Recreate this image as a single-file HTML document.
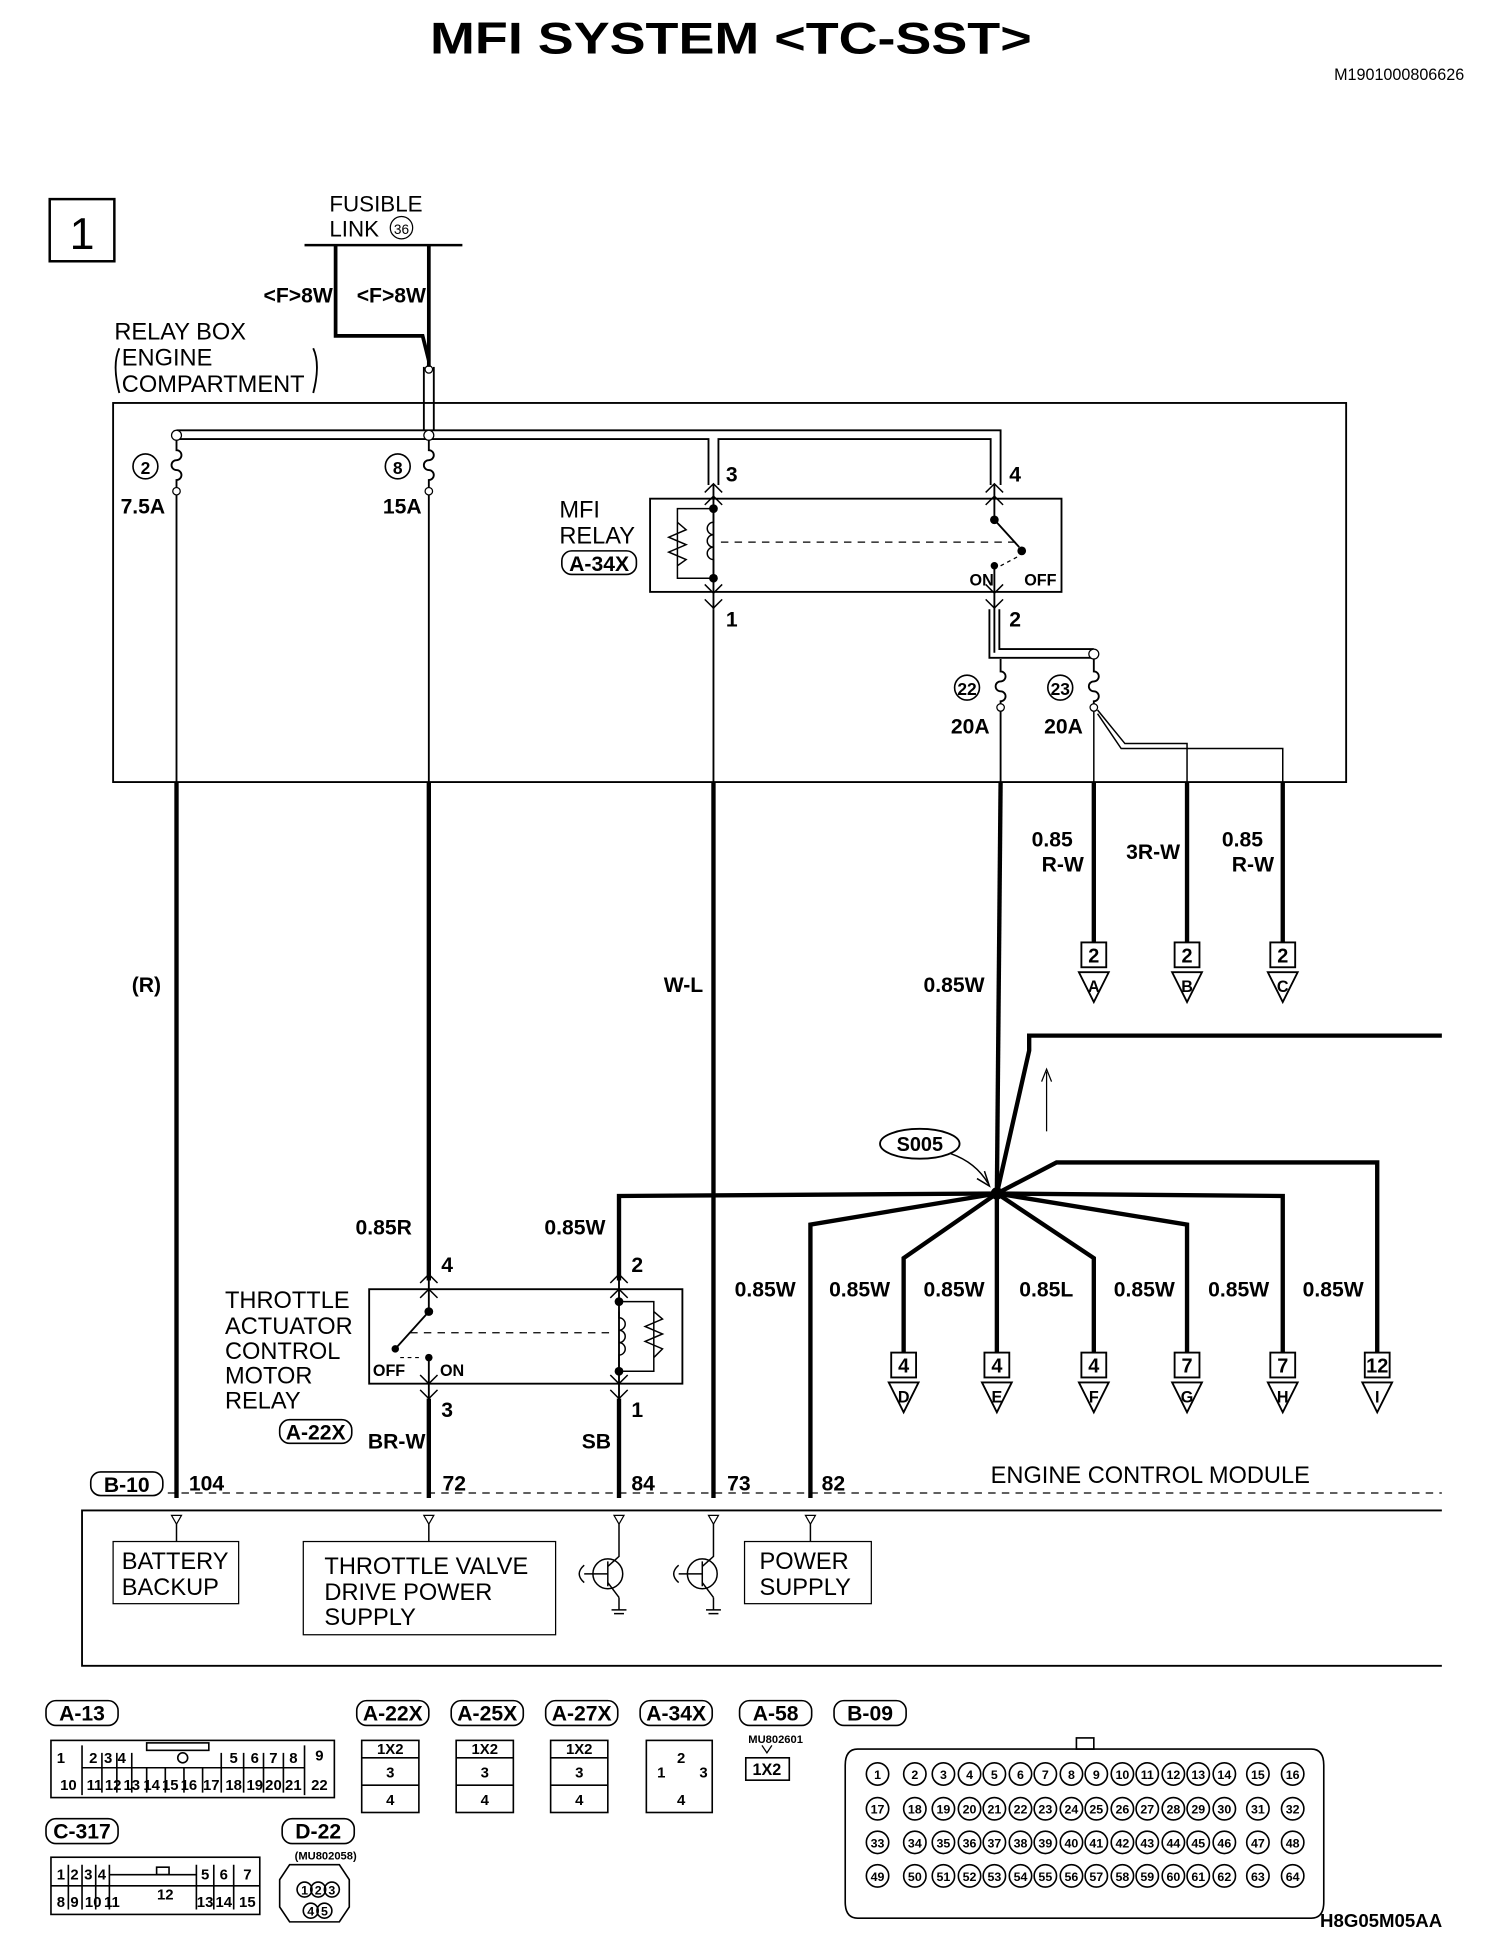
<!DOCTYPE html>
<html><head><meta charset="utf-8"><style>
html,body{margin:0;padding:0;background:#fff}
svg{display:block}
text{font-family:"Liberation Sans",sans-serif;fill:#000}
.b{font-weight:bold}
</style></head><body>
<svg width="1504" height="1942" viewBox="0 0 1210 1562" xmlns="http://www.w3.org/2000/svg">
<rect width="1210" height="1562" fill="#fff"/>
<text x="346" y="43" class="b" font-size="36" textLength="484" lengthAdjust="spacingAndGlyphs">MFI SYSTEM  &lt;TC-SST&gt;</text>
<text x="1178" y="64" text-anchor="end" font-size="13">M1901000806626</text>
<rect x="40" y="160" width="52" height="50" fill="none" stroke="#000" stroke-width="2"/>
<text x="66" y="200" text-anchor="middle" font-size="36">1</text>
<text x="265" y="170" font-size="18">FUSIBLE</text>
<text x="265" y="190" font-size="18">LINK</text>
<circle cx="323" cy="183" r="9" fill="none" stroke="#000"/><text x="323" y="188" text-anchor="middle" font-size="11">36</text>
<g fill="none" stroke="#000">
<line x1="245" y1="197" x2="372" y2="197" stroke-width="2"/>
<polyline points="270,197 270,270 340,270 345,290" stroke-width="3"/>
<line x1="345" y1="197" x2="345" y2="295" stroke-width="3"/>
<rect x="91" y="324" width="992" height="305" stroke-width="1.5"/>
<path d="M142,346 H805 V390 M142,353 H570 V390 M578,390 V353 H797 V390" stroke-width="1.5"/>
<line x1="341" y1="295" x2="341" y2="346" stroke-width="1.5"/><line x1="349" y1="295" x2="349" y2="346" stroke-width="1.5"/>
<circle cx="345" cy="297" r="3"/>
<circle cx="142" cy="350" r="4" fill="#fff"/><circle cx="345" cy="350" r="4" fill="#fff"/>
<path d="M142,354 V362 a4,4 0 0 1 0,8 a4,4 0 0 0 0,8 a4,4 0 0 1 0,8 V392" stroke-width="1.5"/>
<circle cx="142" cy="395" r="3" fill="#fff"/>
<path d="M345,354 V362 a4,4 0 0 1 0,8 a4,4 0 0 0 0,8 a4,4 0 0 1 0,8 V392" stroke-width="1.5"/>
<circle cx="345" cy="395" r="3" fill="#fff"/>
<line x1="142" y1="398" x2="142" y2="629" stroke-width="1.5"/>
<line x1="345" y1="398" x2="345" y2="629" stroke-width="1.5"/>
<line x1="142" y1="629" x2="142" y2="1205" stroke-width="3.5"/>
<line x1="345" y1="629" x2="345" y2="1030" stroke-width="3.5"/>
<path d="M96,280 q-6,13 0,36 M252,280 q6,13 0,36" stroke-width="1.5"/>
<rect x="523" y="401" width="331" height="75" stroke-width="1.5"/>
<line x1="574" y1="390" x2="574" y2="490" stroke-width="1.5"/>
<path d="M567,396 L574,389 L581,396 M567,406 L574,399 L581,406 M567,482 L574,489 L581,482 M567,470 L574,477 L581,470" stroke-width="1.2"/>
<path d="M574,409 H545 V465 H574 M545,420 L552,426 L538,432 L552,438 L538,444 L552,450 L545,455" stroke-width="1.2"/>
<path d="M574,412 V420 a5,5 0 0 0 0,10 a5,5 0 0 0 0,10 a5,5 0 0 0 0,10 V465" stroke-width="1.2"/>
<line x1="580" y1="436" x2="820" y2="436" stroke-dasharray="6,5"/>
<line x1="800" y1="390" x2="800" y2="418" stroke-width="1.5"/>
<line x1="800" y1="418" x2="820" y2="440" stroke-width="1.5"/>
<line x1="800" y1="455" x2="800" y2="525" stroke-width="1.5"/>
<path d="M793,396 L800,389 L807,396 M793,406 L800,399 L807,406 M793,482 L800,489 L807,482 M793,470 L800,477 L807,470" stroke-width="1.2"/>
<line x1="805" y1="455" x2="820" y2="447" stroke-dasharray="3,3"/>
<line x1="574" y1="490" x2="574" y2="629" stroke-width="1.5"/>
<line x1="574" y1="629" x2="574" y2="1205" stroke-width="3.5"/>
<path d="M796,490 V529 H880 M804,490 V522 H880" stroke-width="1.5"/>
<circle cx="880" cy="526" r="4" fill="#fff"/>
<path d="M805,530 V540 a4,4 0 0 1 0,8 a4,4 0 0 0 0,8 a4,4 0 0 1 0,8 V566" stroke-width="1.5"/>
<circle cx="805" cy="569" r="3" fill="#fff"/>
<path d="M880,530 V540 a4,4 0 0 1 0,8 a4,4 0 0 0 0,8 a4,4 0 0 1 0,8 V566" stroke-width="1.5"/>
<circle cx="880" cy="569" r="3" fill="#fff"/>
<line x1="805" y1="572" x2="805" y2="629" stroke-width="1.5"/>
<line x1="805" y1="629" x2="802" y2="960" stroke-width="3.5"/>
<path d="M880,572 V629 M883,571 L905,598 H955 V629 M883,574 L902,602 H1032 V629" stroke-width="1.2"/>
<line x1="880" y1="629" x2="880" y2="758" stroke-width="3.5"/>
<line x1="955" y1="629" x2="955" y2="758" stroke-width="3.5"/>
<line x1="1032" y1="629" x2="1032" y2="758" stroke-width="3.5"/>
<g stroke-width="3.5">
<polyline points="802,960 828,845 828,833 1160,833"/>
<polyline points="802,960 498,962 498,1030"/>
<polyline points="802,960 652,985 652,1205"/>
<polyline points="802,960 727,1012 727,1088"/>
<line x1="802" y1="960" x2="802" y2="1088"/>
<polyline points="802,960 880,1012 880,1088"/>
<polyline points="802,960 955,985 955,1088"/>
<polyline points="802,960 1032,962 1032,1088"/>
<polyline points="802,960 850,935 1108,935 1108,1088"/>
</g>
<line x1="842" y1="910" x2="842" y2="862" stroke-width="1"/>
<path d="M838,870 L842,860 L846,870"/>
<ellipse cx="740" cy="920" rx="32" ry="12" stroke-width="1.5"/>
<path d="M765,928 Q785,935 795,952" stroke-width="1.2"/>
<path d="M786,948 L796,954 L792,942" stroke-width="1.2"/>
<rect x="297" y="1037" width="252" height="76" stroke-width="1.5"/>
<line x1="345" y1="1030" x2="345" y2="1055" stroke-width="1.5"/>
<line x1="345" y1="1055" x2="318" y2="1085" stroke-width="1.5"/>
<line x1="345" y1="1090" x2="345" y2="1125" stroke-width="1.5"/>
<path d="M338,1032 L345,1025 L352,1032 M338,1044 L345,1037 L352,1044 M338,1118 L345,1125 L352,1118 M338,1106 L345,1113 L352,1106" stroke-width="1.2"/>
<line x1="330" y1="1072" x2="490" y2="1072" stroke-dasharray="6,5"/>
<line x1="322" y1="1092" x2="340" y2="1092" stroke-dasharray="3,3"/>
<line x1="498" y1="1030" x2="498" y2="1125" stroke-width="1.5"/>
<path d="M491,1032 L498,1025 L505,1032 M491,1044 L498,1037 L505,1044 M491,1118 L498,1125 L505,1118 M491,1106 L498,1113 L505,1106" stroke-width="1.2"/>
<path d="M498,1047 H526 V1103 H498 M526,1055 L533,1061 L519,1067 L533,1073 L519,1079 L533,1085 L526,1092" stroke-width="1.2"/>
<path d="M498,1055 V1060 a5,5 0 0 1 0,10 a5,5 0 0 1 0,10 a5,5 0 0 1 0,10 V1103" stroke-width="1.2"/>
<line x1="345" y1="1125" x2="345" y2="1205" stroke-width="3.5"/>
<line x1="498" y1="1125" x2="498" y2="1205" stroke-width="3.5"/>
<line x1="135" y1="1201" x2="1160" y2="1201" stroke-dasharray="6,5"/>
<path d="M1160,1215 H66 V1340 H1160" stroke-width="1.5"/>
<rect x="91" y="1240" width="101" height="50"/>
<rect x="244" y="1240" width="203" height="75"/>
<rect x="599" y="1240" width="102" height="50"/>
</g>
<g fill="#000">
<circle cx="574" cy="409" r="3.5"/><circle cx="574" cy="465" r="3.5"/><circle cx="800" cy="418" r="3.5"/><circle cx="822" cy="443" r="3.5"/><circle cx="800" cy="455" r="3"/>
<circle cx="345" cy="1055" r="3.5"/><circle cx="318" cy="1085" r="3"/><circle cx="345" cy="1092" r="3"/><circle cx="498" cy="1047" r="3.5"/><circle cx="498" cy="1103" r="3.5"/>
<circle cx="802" cy="960" r="5"/>
</g>
<g fill="#fff" stroke="#000">
<path d="M138,1219 h8 l-4,7z M341,1219 h8 l-4,7z M494,1219 h8 l-4,7z M570,1219 h8 l-4,7z M648,1219 h8 l-4,7z"/>
</g>
<g stroke="#000" fill="none" stroke-width="1.2">
<line x1="142" y1="1226" x2="142" y2="1240"/><line x1="345" y1="1226" x2="345" y2="1240"/>
<path d="M498,1226 V1252 L489,1260 M498,1285 L489,1273 M489,1256 V1276 M470,1266 H489"/>
<circle cx="489" cy="1266" r="12"/>
<path d="M498,1285 V1295 M492,1295 h12 M494,1298 h8"/>
<path d="M574,1226 V1252 L565,1260 M574,1285 L565,1273 M565,1256 V1276 M546,1266 H565"/>
<circle cx="565" cy="1266" r="12"/>
<path d="M574,1285 V1295 M568,1295 h12 M570,1298 h8"/>
<path d="M470,1259 q-8,7 0,14 M546,1259 q-8,7 0,14"/>
<line x1="652" y1="1226" x2="652" y2="1240"/>
</g>
<g fill="none" stroke="#000" stroke-width="1.5">
<rect x="870" y="758" width="20" height="20"/><rect x="945" y="758" width="20" height="20"/><rect x="1022" y="758" width="20" height="20"/>
<path d="M868,782 h24 l-12,24z M943,782 h24 l-12,24z M1020,782 h24 l-12,24z"/>
<rect x="717" y="1088" width="20" height="20"/><rect x="792" y="1088" width="20" height="20"/><rect x="870" y="1088" width="20" height="20"/><rect x="945" y="1088" width="20" height="20"/><rect x="1022" y="1088" width="20" height="20"/><rect x="1098" y="1088" width="20" height="20"/>
<path d="M715,1112 h24 l-12,24z M790,1112 h24 l-12,24z M868,1112 h24 l-12,24z M943,1112 h24 l-12,24z M1020,1112 h24 l-12,24z M1096,1112 h24 l-12,24z"/>
</g>
<g class="b" font-size="16" text-anchor="middle">
<text x="880" y="774">2</text><text x="955" y="774">2</text><text x="1032" y="774">2</text>
<text x="880" y="798" font-size="13">A</text><text x="955" y="798" font-size="13">B</text><text x="1032" y="798" font-size="13">C</text>
<text x="727" y="1104">4</text><text x="802" y="1104">4</text><text x="880" y="1104">4</text><text x="955" y="1104">7</text><text x="1032" y="1104">7</text><text x="1108" y="1104">12</text>
<text x="727" y="1128" font-size="13">D</text><text x="802" y="1128" font-size="13">E</text><text x="880" y="1128" font-size="13">F</text><text x="955" y="1128" font-size="13">G</text><text x="1032" y="1128" font-size="13">H</text><text x="1108" y="1128" font-size="13">I</text>
</g>
<g class="b" font-size="17">
<text x="212" y="243">&lt;F&gt;8W</text><text x="287" y="243">&lt;F&gt;8W</text>
<text x="97" y="413">7.5A</text><text x="308" y="413">15A</text>
<text x="584" y="387">3</text><text x="812" y="387">4</text><text x="584" y="504">1</text><text x="812" y="504">2</text>
<text x="765" y="590">20A</text><text x="840" y="590">20A</text>
<text x="830" y="681">0.85</text><text x="838" y="701">R-W</text>
<text x="906" y="691">3R-W</text>
<text x="983" y="681">0.85</text><text x="991" y="701">R-W</text>
<text x="106" y="798">(R)</text><text x="534" y="798">W-L</text><text x="743" y="798">0.85W</text>
<text x="286" y="993">0.85R</text><text x="438" y="993">0.85W</text>
<text x="355" y="1023">4</text><text x="508" y="1023">2</text><text x="355" y="1140">3</text><text x="508" y="1140">1</text>
<text x="591" y="1043">0.85W</text><text x="667" y="1043">0.85W</text><text x="743" y="1043">0.85W</text><text x="820" y="1043">0.85L</text><text x="896" y="1043">0.85W</text><text x="972" y="1043">0.85W</text><text x="1048" y="1043">0.85W</text>
<text x="296" y="1165">BR-W</text><text x="468" y="1165">SB</text>
<text x="152" y="1199">104</text><text x="356" y="1199">72</text><text x="508" y="1199">84</text><text x="585" y="1199">73</text><text x="661" y="1199">82</text>
<text x="1062" y="1550" font-size="15">H8G05M05AA</text>
</g>
<g font-size="19">
<text x="92" y="273">RELAY BOX</text><text x="98" y="294">ENGINE</text><text x="98" y="315">COMPARTMENT</text>
<text x="450" y="416">MFI</text><text x="450" y="437">RELAY</text>
<text x="181" y="1052">THROTTLE</text><text x="181" y="1073">ACTUATOR</text><text x="181" y="1093">CONTROL</text><text x="181" y="1113">MOTOR</text><text x="181" y="1133">RELAY</text>
<text x="797" y="1193">ENGINE CONTROL MODULE</text>
<text x="98" y="1262">BATTERY</text><text x="98" y="1283">BACKUP</text>
<text x="261" y="1266">THROTTLE VALVE</text><text x="261" y="1287">DRIVE POWER</text><text x="261" y="1307">SUPPLY</text>
<text x="611" y="1262">POWER</text><text x="611" y="1283">SUPPLY</text>
</g>
<g fill="none" stroke="#000" stroke-width="1.3">
<circle cx="117" cy="375" r="10"/><circle cx="320" cy="375" r="10"/><circle cx="778" cy="553" r="10"/><circle cx="853" cy="553" r="10"/>
<rect x="452" y="443" width="60" height="19" rx="8"/>
<rect x="225" y="1142" width="58" height="19" rx="8"/>
<rect x="73" y="1184" width="58" height="19" rx="8"/>
</g>
<g class="b" font-size="14" text-anchor="middle">
<text x="117" y="381">2</text><text x="320" y="381">8</text><text x="778" y="559">22</text><text x="853" y="559">23</text>
<text x="740" y="926" font-size="16">S005</text>
<text x="482" y="459" font-size="17">A-34X</text><text x="254" y="1158" font-size="17">A-22X</text><text x="102" y="1200" font-size="17">B-10</text>
</g>
<g fill="none" stroke="#000" stroke-width="1.3">
<rect x="37" y="1368" width="58" height="20" rx="8"/><rect x="287" y="1368" width="58" height="20" rx="8"/><rect x="363" y="1368" width="58" height="20" rx="8"/><rect x="439" y="1368" width="58" height="20" rx="8"/><rect x="515" y="1368" width="58" height="20" rx="8"/><rect x="595" y="1368" width="58" height="20" rx="8"/><rect x="671" y="1368" width="58" height="20" rx="8"/>
<rect x="37" y="1463" width="58" height="20" rx="8"/><rect x="227" y="1463" width="58" height="20" rx="8"/>
<rect x="41" y="1400" width="228" height="46"/><line x1="66" y1="1422" x2="245" y2="1422"/>
<path d="M66,1404 V1444 M245,1404 V1444 M82,1410 V1442 M94,1410 V1442 M106,1410 V1442 M118,1422 V1442 M133,1422 V1442 M148,1422 V1442 M163,1422 V1442 M178,1410 V1442 M196,1410 V1442 M212,1410 V1442 M228,1410 V1442"/>
<rect x="118" y="1402" width="50" height="6"/><circle cx="147" cy="1414" r="4"/>
<rect x="41" y="1494" width="168" height="46"/><line x1="41" y1="1517" x2="209" y2="1517"/>
<path d="M55,1500 V1536 M66,1500 V1536 M77,1500 V1536 M88,1500 V1536 M158,1500 V1536 M172,1500 V1536 M188,1500 V1536 M88,1508 H158"/>
<rect x="126" y="1502" width="10" height="6"/>
<rect x="291" y="1400" width="46" height="58"/><rect x="367" y="1400" width="46" height="58"/><rect x="443" y="1400" width="46" height="58"/>
<line x1="291" y1="1414" x2="337" y2="1414"/><line x1="291" y1="1436" x2="337" y2="1436"/>
<line x1="367" y1="1414" x2="413" y2="1414"/><line x1="367" y1="1436" x2="413" y2="1436"/>
<line x1="443" y1="1414" x2="489" y2="1414"/><line x1="443" y1="1436" x2="489" y2="1436"/>
<rect x="520" y="1400" width="53" height="58"/>
<rect x="600" y="1414" width="35" height="18"/>
<path d="M233,1500 h40 l8,12 v22 l-8,12 h-40 l-8,-12 v-22z"/>
<circle cx="245" cy="1520" r="6"/><circle cx="256" cy="1520" r="6"/><circle cx="267" cy="1520" r="6"/><circle cx="250" cy="1537" r="6"/><circle cx="261" cy="1537" r="6"/>
<path d="M690,1407 H1055 Q1065,1407 1065,1420 V1530 Q1065,1543 1055,1543 H690 Q680,1543 680,1530 V1420 Q680,1407 690,1407z"/>
<rect x="866" y="1398" width="14" height="9"/>
</g>
<g class="b" font-size="17" text-anchor="middle">
<text x="66" y="1384">A-13</text><text x="316" y="1384">A-22X</text><text x="392" y="1384">A-25X</text><text x="468" y="1384">A-27X</text><text x="544" y="1384">A-34X</text><text x="624" y="1384">A-58</text><text x="700" y="1384">B-09</text>
<text x="66" y="1479">C-317</text><text x="256" y="1479">D-22</text>
<text x="624" y="1402" font-size="9">MU802601</text><text x="262" y="1496" font-size="9">(MU802058)</text>
<text x="617" y="1428" font-size="13">1X2</text>
</g>
<g class="b" font-size="12" text-anchor="middle">
<text x="49" y="1418">1</text><text x="75" y="1418">2</text><text x="87" y="1418">3</text><text x="98" y="1418">4</text><text x="188" y="1418">5</text><text x="205" y="1418">6</text><text x="220" y="1418">7</text><text x="236" y="1418">8</text><text x="257" y="1416">9</text>
<text x="55" y="1440">10</text><text x="76" y="1440">11</text><text x="91" y="1440">12</text><text x="106" y="1440">13</text><text x="122" y="1440">14</text><text x="137" y="1440">15</text><text x="152" y="1440">16</text><text x="170" y="1440">17</text><text x="188" y="1440">18</text><text x="205" y="1440">19</text><text x="220" y="1440">20</text><text x="236" y="1440">21</text><text x="257" y="1440">22</text>
<text x="49" y="1512">1</text><text x="60" y="1512">2</text><text x="71" y="1512">3</text><text x="82" y="1512">4</text><text x="165" y="1512">5</text><text x="180" y="1512">6</text><text x="199" y="1512">7</text>
<text x="49" y="1534">8</text><text x="60" y="1534">9</text><text x="75" y="1534">10</text><text x="90" y="1534">11</text><text x="133" y="1528">12</text><text x="165" y="1534">13</text><text x="180" y="1534">14</text><text x="199" y="1534">15</text>
<text x="314" y="1411">1X2</text><text x="314" y="1430">3</text><text x="314" y="1452">4</text>
<text x="390" y="1411">1X2</text><text x="390" y="1430">3</text><text x="390" y="1452">4</text>
<text x="466" y="1411">1X2</text><text x="466" y="1430">3</text><text x="466" y="1452">4</text>
<text x="548" y="1418">2</text><text x="532" y="1430">1</text><text x="566" y="1430">3</text><text x="548" y="1452">4</text>
<text x="245" y="1524" font-size="10">1</text><text x="256" y="1524" font-size="10">2</text><text x="267" y="1524" font-size="10">3</text><text x="250" y="1541" font-size="10">4</text><text x="261" y="1541" font-size="10">5</text>
</g>
<g fill="none" stroke="#000" stroke-width="1.3">
<circle cx="706" cy="1427" r="9"/><circle cx="736" cy="1427" r="9"/><circle cx="759" cy="1427" r="9"/><circle cx="780" cy="1427" r="9"/><circle cx="800" cy="1427" r="9"/><circle cx="821" cy="1427" r="9"/><circle cx="841" cy="1427" r="9"/><circle cx="862" cy="1427" r="9"/><circle cx="882" cy="1427" r="9"/><circle cx="903" cy="1427" r="9"/><circle cx="923" cy="1427" r="9"/><circle cx="944" cy="1427" r="9"/><circle cx="964" cy="1427" r="9"/><circle cx="985" cy="1427" r="9"/><circle cx="1012" cy="1427" r="9"/><circle cx="1040" cy="1427" r="9"/>
<circle cx="706" cy="1455" r="9"/><circle cx="736" cy="1455" r="9"/><circle cx="759" cy="1455" r="9"/><circle cx="780" cy="1455" r="9"/><circle cx="800" cy="1455" r="9"/><circle cx="821" cy="1455" r="9"/><circle cx="841" cy="1455" r="9"/><circle cx="862" cy="1455" r="9"/><circle cx="882" cy="1455" r="9"/><circle cx="903" cy="1455" r="9"/><circle cx="923" cy="1455" r="9"/><circle cx="944" cy="1455" r="9"/><circle cx="964" cy="1455" r="9"/><circle cx="985" cy="1455" r="9"/><circle cx="1012" cy="1455" r="9"/><circle cx="1040" cy="1455" r="9"/>
<circle cx="706" cy="1482" r="9"/><circle cx="736" cy="1482" r="9"/><circle cx="759" cy="1482" r="9"/><circle cx="780" cy="1482" r="9"/><circle cx="800" cy="1482" r="9"/><circle cx="821" cy="1482" r="9"/><circle cx="841" cy="1482" r="9"/><circle cx="862" cy="1482" r="9"/><circle cx="882" cy="1482" r="9"/><circle cx="903" cy="1482" r="9"/><circle cx="923" cy="1482" r="9"/><circle cx="944" cy="1482" r="9"/><circle cx="964" cy="1482" r="9"/><circle cx="985" cy="1482" r="9"/><circle cx="1012" cy="1482" r="9"/><circle cx="1040" cy="1482" r="9"/>
<circle cx="706" cy="1509" r="9"/><circle cx="736" cy="1509" r="9"/><circle cx="759" cy="1509" r="9"/><circle cx="780" cy="1509" r="9"/><circle cx="800" cy="1509" r="9"/><circle cx="821" cy="1509" r="9"/><circle cx="841" cy="1509" r="9"/><circle cx="862" cy="1509" r="9"/><circle cx="882" cy="1509" r="9"/><circle cx="903" cy="1509" r="9"/><circle cx="923" cy="1509" r="9"/><circle cx="944" cy="1509" r="9"/><circle cx="964" cy="1509" r="9"/><circle cx="985" cy="1509" r="9"/><circle cx="1012" cy="1509" r="9"/><circle cx="1040" cy="1509" r="9"/>
</g>
<g class="b" font-size="10" text-anchor="middle">
<text x="706" y="1431">1</text><text x="736" y="1431">2</text><text x="759" y="1431">3</text><text x="780" y="1431">4</text><text x="800" y="1431">5</text><text x="821" y="1431">6</text><text x="841" y="1431">7</text><text x="862" y="1431">8</text><text x="882" y="1431">9</text><text x="903" y="1431">10</text><text x="923" y="1431">11</text><text x="944" y="1431">12</text><text x="964" y="1431">13</text><text x="985" y="1431">14</text><text x="1012" y="1431">15</text><text x="1040" y="1431">16</text>
<text x="706" y="1459">17</text><text x="736" y="1459">18</text><text x="759" y="1459">19</text><text x="780" y="1459">20</text><text x="800" y="1459">21</text><text x="821" y="1459">22</text><text x="841" y="1459">23</text><text x="862" y="1459">24</text><text x="882" y="1459">25</text><text x="903" y="1459">26</text><text x="923" y="1459">27</text><text x="944" y="1459">28</text><text x="964" y="1459">29</text><text x="985" y="1459">30</text><text x="1012" y="1459">31</text><text x="1040" y="1459">32</text>
<text x="706" y="1486">33</text><text x="736" y="1486">34</text><text x="759" y="1486">35</text><text x="780" y="1486">36</text><text x="800" y="1486">37</text><text x="821" y="1486">38</text><text x="841" y="1486">39</text><text x="862" y="1486">40</text><text x="882" y="1486">41</text><text x="903" y="1486">42</text><text x="923" y="1486">43</text><text x="944" y="1486">44</text><text x="964" y="1486">45</text><text x="985" y="1486">46</text><text x="1012" y="1486">47</text><text x="1040" y="1486">48</text>
<text x="706" y="1513">49</text><text x="736" y="1513">50</text><text x="759" y="1513">51</text><text x="780" y="1513">52</text><text x="800" y="1513">53</text><text x="821" y="1513">54</text><text x="841" y="1513">55</text><text x="862" y="1513">56</text><text x="882" y="1513">57</text><text x="903" y="1513">58</text><text x="923" y="1513">59</text><text x="944" y="1513">60</text><text x="964" y="1513">61</text><text x="985" y="1513">62</text><text x="1012" y="1513">63</text><text x="1040" y="1513">64</text>
</g>
<g class="b" font-size="13"><text x="780" y="471">ON</text><text x="824" y="471">OFF</text><text x="300" y="1107">OFF</text><text x="354" y="1107">ON</text></g>
<path d="M613,1404 l4,6 l4,-6" fill="none" stroke="#000"/>
</svg>
</body></html>
